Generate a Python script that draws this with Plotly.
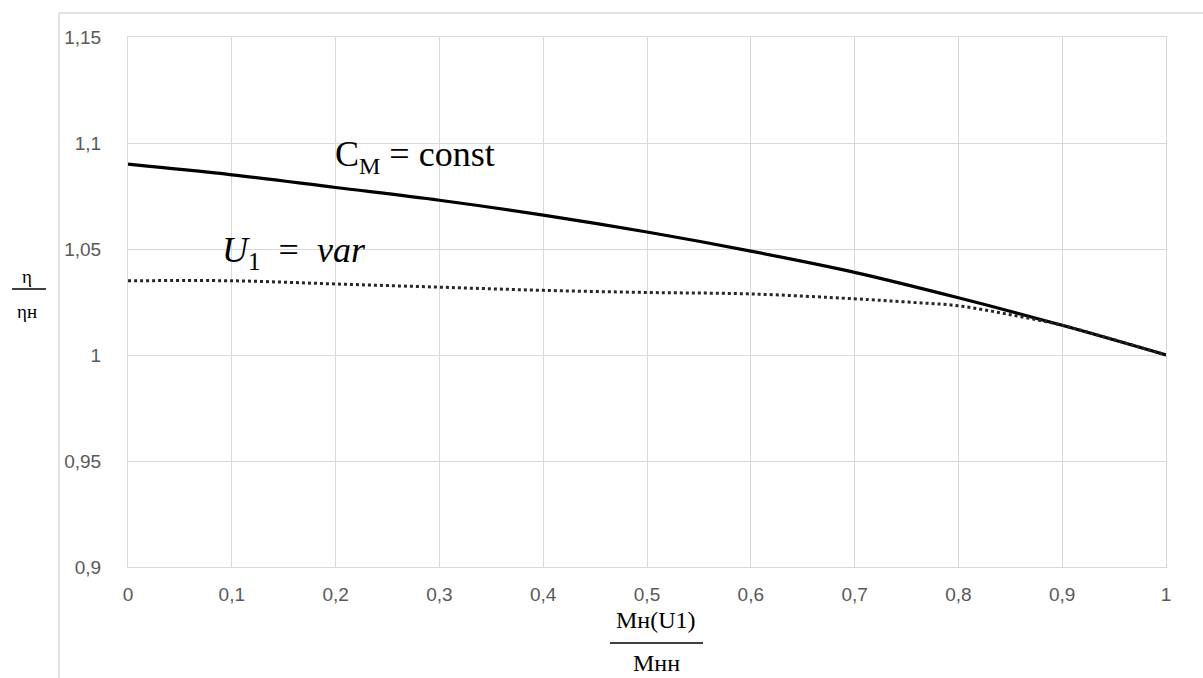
import plotly.graph_objects as go

# ---- data ----
x_const = [0, 0.1, 0.2, 0.3, 0.4, 0.5, 0.6, 0.7, 0.8, 0.9, 1.0]
eta_const = [1.090, 1.085, 1.079, 1.073, 1.066, 1.058, 1.049, 1.039, 1.027, 1.014, 1.000]

x_var = [0, 0.1, 0.2, 0.3, 0.4, 0.5, 0.6, 0.7, 0.75, 0.8, 0.85, 0.9, 0.95, 1.0]
eta_var = [1.035, 1.035, 1.0335, 1.032, 1.0305, 1.0295, 1.0288, 1.0265, 1.025, 1.0232, 1.019, 1.014, 1.0072, 1.000]

x_ticks = [0, 0.1, 0.2, 0.3, 0.4, 0.5, 0.6, 0.7, 0.8, 0.9, 1.0]
x_ticktext = ["0", "0,1", "0,2", "0,3", "0,4", "0,5", "0,6", "0,7", "0,8", "0,9", "1"]
y_ticks = [0.9, 0.95, 1.0, 1.05, 1.1, 1.15]
y_ticktext = ["0,9", "0,95", "1", "1,05", "1,1", "1,15"]

# ---- layout geometry ----
W, H = 1203, 678
L, R, T, B = 128, 37, 37, 111
PW, PH = W - L - R, H - T - B


def px(xp):
    return (xp - L) / PW


def py(yp):
    return (H - B - yp) / PH


fig = go.Figure()
fig.add_trace(go.Scatter(x=x_const, y=eta_const, mode="lines", line=dict(color="black", width=3.2, shape="spline"),
                         showlegend=False, hoverinfo="skip"))
fig.add_trace(go.Scatter(x=x_var, y=eta_var, mode="lines", line=dict(color="#262626", width=3, dash="dot", shape="spline"),
                         showlegend=False, hoverinfo="skip"))

tickfont = dict(family="Liberation Sans", size=19, color="#595959")
fig.update_xaxes(range=[0, 1], tickvals=x_ticks, ticktext=x_ticktext, showgrid=True, gridcolor="#d9d9d9",
                 gridwidth=1, zeroline=False, showline=True, linecolor="#d9d9d9", mirror=True,
                 tickfont=tickfont, ticks="", ticklabelstandoff=10)
fig.update_yaxes(range=[0.9, 1.15], tickvals=y_ticks, ticktext=y_ticktext, showgrid=True, gridcolor="#d9d9d9",
                 gridwidth=1, zeroline=False, showline=True, linecolor="#d9d9d9", mirror=True,
                 tickfont=tickfont, ticks="", ticklabelstandoff=22)

serif = "Liberation Serif"
annotations = [
    dict(x=px(333), y=py(157), text="C<sub><span style='font-size:24px'>M</span></sub> = const", xanchor="left", yanchor="middle",
         font=dict(family=serif, size=36, color="black")),
    dict(x=px(220), y=py(252), text="<i>U</i><sub>1</sub>  =  <i>var</i>", xanchor="left", yanchor="middle",
         font=dict(family=serif, size=36, color="black")),
    dict(x=px(27), y=py(276), text="η", xanchor="center", yanchor="middle",
         font=dict(family=serif, size=19, color="black")),
    dict(x=px(27), y=py(311), text="ηн", xanchor="center", yanchor="middle",
         font=dict(family=serif, size=19, color="black")),
    dict(x=px(656), y=py(620), text="Мн(U1)", xanchor="center", yanchor="middle",
         font=dict(family=serif, size=24, color="black")),
    dict(x=px(656), y=py(663), text="Мнн", xanchor="center", yanchor="middle",
         font=dict(family=serif, size=24, color="black")),
]
for a in annotations:
    a.update(xref="paper", yref="paper", showarrow=False)

shapes = [
    # fraction bars
    dict(type="line", x0=px(12), x1=px(46), y0=py(289), y1=py(289), line=dict(color="black", width=1.5)),
    dict(type="line", x0=px(610), x1=px(703), y0=py(643), y1=py(643), line=dict(color="black", width=1.5)),
    # outer chart frame
    dict(type="line", x0=px(59), x1=px(1205), y0=py(13), y1=py(13), line=dict(color="#d9d9d9", width=1.5)),
    dict(type="line", x0=px(59), x1=px(59), y0=py(13), y1=py(680), line=dict(color="#d9d9d9", width=1.5)),
]
for s in shapes:
    s.update(xref="paper", yref="paper")

fig.update_layout(width=W, height=H, margin=dict(l=L, r=R, t=T, b=B, autoexpand=False),
                  paper_bgcolor="white", plot_bgcolor="white", annotations=annotations, shapes=shapes)

fig.write_html("out.html")
